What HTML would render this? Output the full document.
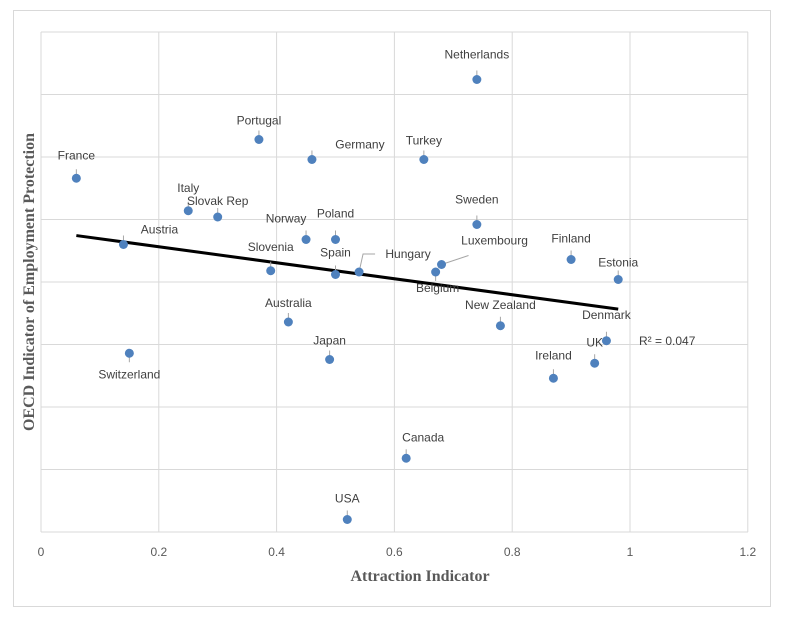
<!DOCTYPE html>
<html><head><meta charset="utf-8"><style>
body{margin:0;background:#fff;}
svg text{font-family:"Liberation Sans",sans-serif;}
</style></head><body>
<svg id="chart" width="785" height="619" xmlns="http://www.w3.org/2000/svg">
<rect x="13.5" y="10.5" width="757" height="596" fill="#fff" stroke="#d9d9d9"/>
<g id="grid"></g>
<g id="xticks"></g>
<g id="trend"></g>
<g id="pts"></g>
<text x="639" y="345" font-size="12" fill="#404040">R² = 0.047</text>
<text x="420" y="581" font-size="16" font-weight="bold" text-anchor="middle" fill="#595959" style="font-family:'Liberation Serif',serif">Attraction Indicator</text>
<text transform="translate(34,282) rotate(-90)" font-size="16" font-weight="bold" text-anchor="middle" fill="#595959" style="font-family:'Liberation Serif',serif">OECD Indicator of Employment  Protection</text>
</svg>
<script>
const countries=["France","Switzerland","Austria","Italy","Slovak Rep","Portugal","Slovenia","Australia","Germany","Norway","Poland","Spain","Japan","USA","Hungary","Belgium","Luxembourg","Turkey","Netherlands","Sweden","New Zealand","Canada","Finland","Ireland","Estonia","Denmark","UK"];
const xVals=[0.06,0.15,0.14,0.25,0.30,0.37,0.39,0.42,0.46,0.45,0.50,0.50,0.49,0.52,0.54,0.67,0.68,0.65,0.74,0.74,0.78,0.62,0.90,0.87,0.98,0.96,0.94];
const yVals=[2.83,1.43,2.30,2.57,2.52,3.14,2.09,1.68,2.98,2.34,2.34,2.06,1.38,0.10,2.08,2.08,2.14,2.98,3.62,2.46,1.65,0.59,2.18,1.23,2.02,1.53,1.35];
const xTicks=[0,0.2,0.4,0.6,0.8,1,1.2];
const yGrid=[0,0.5,1,1.5,2,2.5,3,3.5,4];
const trendX=[0.06,0.98];
const trendIntercept=2.41;
const trendSlope=-0.64;
const labelOff=[[0,-19],[0,25],[36,-11],[0,-19],[0,-12],[0,-15],[0,-20],[0,-15],[48,-11],[-20,-17],[0,-22],[0,-18],[0,-15],[0,-17],[49,-14],[2,20],[53,-20],[0,-15],[0,-21],[0,-21],[0,-17],[17,-17],[0,-17],[0,-19],[0,-13],[0,-22],[0,-17]];
const X=v=>41+v*589, Y=v=>532-v*125;
const ns="http://www.w3.org/2000/svg";
function mk(t,a,p){const e=document.createElementNS(ns,t);for(const k in a)e.setAttribute(k,a[k]);p.appendChild(e);return e;}
const g=document.getElementById('grid');
yGrid.forEach(v=>{const l=mk('line',{x1:41,x2:748,y1:Y(v),y2:Y(v),stroke:'#d9d9d9'},g);

});
const xt=document.getElementById('xticks');
xTicks.forEach(v=>{const l=mk('line',{x1:X(v),x2:X(v),y1:32,y2:532,stroke:'#d9d9d9'},g);


const t=mk('text',{x:X(v),y:556,'font-size':12,'text-anchor':'middle',fill:'#595959'},xt);t.textContent=v;

});
const tr=document.getElementById('trend');
const tl=mk('line',{x1:X(trendX[0]),y1:Y(trendIntercept+trendSlope*trendX[0]),x2:X(trendX[1]),y2:Y(trendIntercept+trendSlope*trendX[1]),stroke:'#000','stroke-width':3},tr);


const pg=document.getElementById('pts');
countries.forEach((c,i)=>{const cx=X(xVals[i]),cy=Y(yVals[i]);
const [dx,dy]=labelOff[i];
let pts;
if(c==="Hungary") pts=`${cx},${cy} ${cx+4},${cy-18} ${cx+16},${cy-18}`;
else if(c==="Luxembourg") pts=`${cx},${cy} ${cx+27},${cy-9}`;
else pts=`${cx},${cy} ${cx},${cy+(dy<0?-9:9)}`;
const ld=mk('polyline',{points:pts,fill:'none',stroke:'#a6a6a6'},pg);


const p=mk('circle',{cx:cx,cy:cy,r:4.5,fill:'#4f81bd'},pg);


const t=mk('text',{x:cx+dx,y:cy+dy,'font-size':12,'text-anchor':'middle',fill:'#404040'},pg);t.textContent=c;

});
</script>
</body></html>
